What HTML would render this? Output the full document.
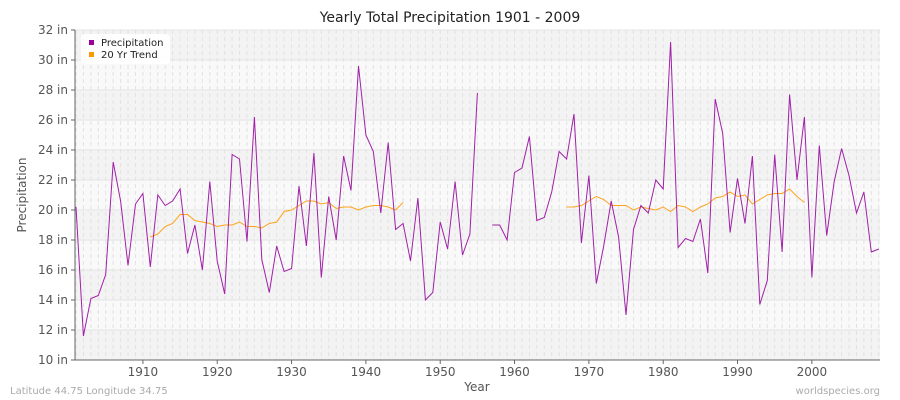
<!DOCTYPE html><html><head><style>body{margin:0;background:#fff}svg{display:block;font-family:"DejaVu Sans","Liberation Sans",sans-serif}</style></head><body>
<svg id="s" width="900" height="400" xmlns="http://www.w3.org/2000/svg">
<text x="450" y="22" text-anchor="middle" font-size="14" fill="#222">Yearly Total Precipitation 1901 - 2009</text>
<g id="bg"></g>
<g id="yl" font-size="12" fill="#555" text-anchor="end"></g>
<g id="xl" font-size="12" fill="#555" text-anchor="middle"></g>
<line x1="75" y1="30" x2="75" y2="360" stroke="#666"/>
<line x1="75" y1="360" x2="880" y2="360" stroke="#666"/>
<g id="lines"></g>
<rect x="81" y="34" width="89" height="30" rx="4" fill="#fff" opacity="0.9"/>
<rect x="89" y="40" width="5" height="5" fill="#990099"/><text x="101" y="46" font-size="10" fill="#222">Precipitation</text>
<rect x="89" y="52" width="5" height="5" fill="#ff9900"/><text x="101" y="58" font-size="10" fill="#222">20 Yr Trend</text>
<text x="26" y="195" font-size="12" fill="#555" text-anchor="middle" transform="rotate(-90 26 195)">Precipitation</text>
<text x="477" y="391" font-size="12" fill="#555" text-anchor="middle">Year</text>
<text x="10" y="394" font-size="10" fill="#aaa">Latitude 44.75 Longitude 34.75</text>
<text x="880" y="394" font-size="10" fill="#aaa" text-anchor="end">worldspecies.org</text>
</svg>
<script>
var NS="http://www.w3.org/2000/svg";function el(p,t,a){var e=document.createElementNS(NS,t);for(var k in a)e.setAttribute(k,a[k]);document.getElementById(p).appendChild(e);return e;}
function X(y){return 76+(y-1901)*7.433;}function Y(v){return 360-(v-10)*15;}
for(var i=0;i<11;i++){var v=10+2*i;el("bg","rect",{x:75,y:Y(v+2),width:805,height:30,fill:i%2?"#f9f9f9":"#f3f3f3"});}
for(var y=1901;y<=2009;y++)el("bg","line",{x1:X(y),y1:30,x2:X(y),y2:360,stroke:"#e2e2e2","stroke-dasharray":"4,3"});
for(var v=10;v<=32;v+=2){el("bg","line",{x1:75,y1:Y(v),x2:880,y2:Y(v),stroke:"#e4e4e4"});var t=el("yl","text",{x:68,y:Y(v)+4});t.textContent=v+" in";el("bg","line",{x1:71,y1:Y(v),x2:75,y2:Y(v),stroke:"#666"});}
for(var y=1910;y<=2000;y+=10){var t=el("xl","text",{x:X(y),y:376});t.textContent=y;el("bg","line",{x1:X(y),y1:360,x2:X(y),y2:364,stroke:"#666"});}
var p=[20.2,11.6,14.1,14.3,15.7,23.2,20.6,16.3,20.4,21.1,16.2,21.0,20.3,20.6,21.4,17.1,19.0,16.0,21.9,16.6,14.4,23.7,23.4,17.9,26.2,16.7,14.5,17.6,15.9,16.1,21.6,17.6,23.8,15.5,20.9,18.0,23.6,21.3,29.6,25.0,23.9,19.8,24.5,18.7,19.1,16.6,20.8,14.0,14.5,19.2,17.4,21.9,17.0,18.4,27.8,null,19.0,19.0,18.0,22.5,22.8,24.9,19.3,19.5,21.2,23.9,23.4,26.4,17.8,22.3,15.1,17.6,20.6,18.2,13.0,18.7,20.3,19.8,22.0,21.4,31.2,17.5,18.1,17.9,19.4,15.8,27.4,25.1,18.5,22.1,19.1,23.6,13.7,15.3,23.7,17.2,27.7,22.0,26.2,15.5,24.3,18.3,21.9,24.1,22.3,19.8,21.2,17.2,17.4];
function seg(arr,start,col){var pts=[];function fl(){if(pts.length)el("lines","polyline",{points:pts.join(" "),fill:"none",stroke:col,"stroke-width":1});pts=[];}
arr.forEach(function(v,i){if(v==null){fl();return;}pts.push(X(start+i).toFixed(1)+","+Y(v).toFixed(1));});fl();}
seg([18.2,18.4,18.9,19.1,19.7,19.7,19.3,19.2,19.1,18.9,19.0,19.0,19.2,18.9,18.9,18.8,19.1,19.2,19.9,20.0,20.3,20.6,20.6,20.4,20.5,20.1,20.2,20.2,20.0,20.2,20.3,20.3,20.2,20.0,20.5],1911,"#ffa31a");
seg([20.2,20.2,20.3,20.6,20.9,20.7,20.3,20.3,20.3,20.0,20.2,20.1,20.0,20.2,19.9,20.3,20.2,19.9,20.2,20.4,20.8,20.9,21.2,20.9,21.0,20.4,20.7,21.0,21.1,21.1,21.4,20.9,20.5],1967,"#ffa31a");
seg(p,1901,"#a020a8");
</script></body></html>
